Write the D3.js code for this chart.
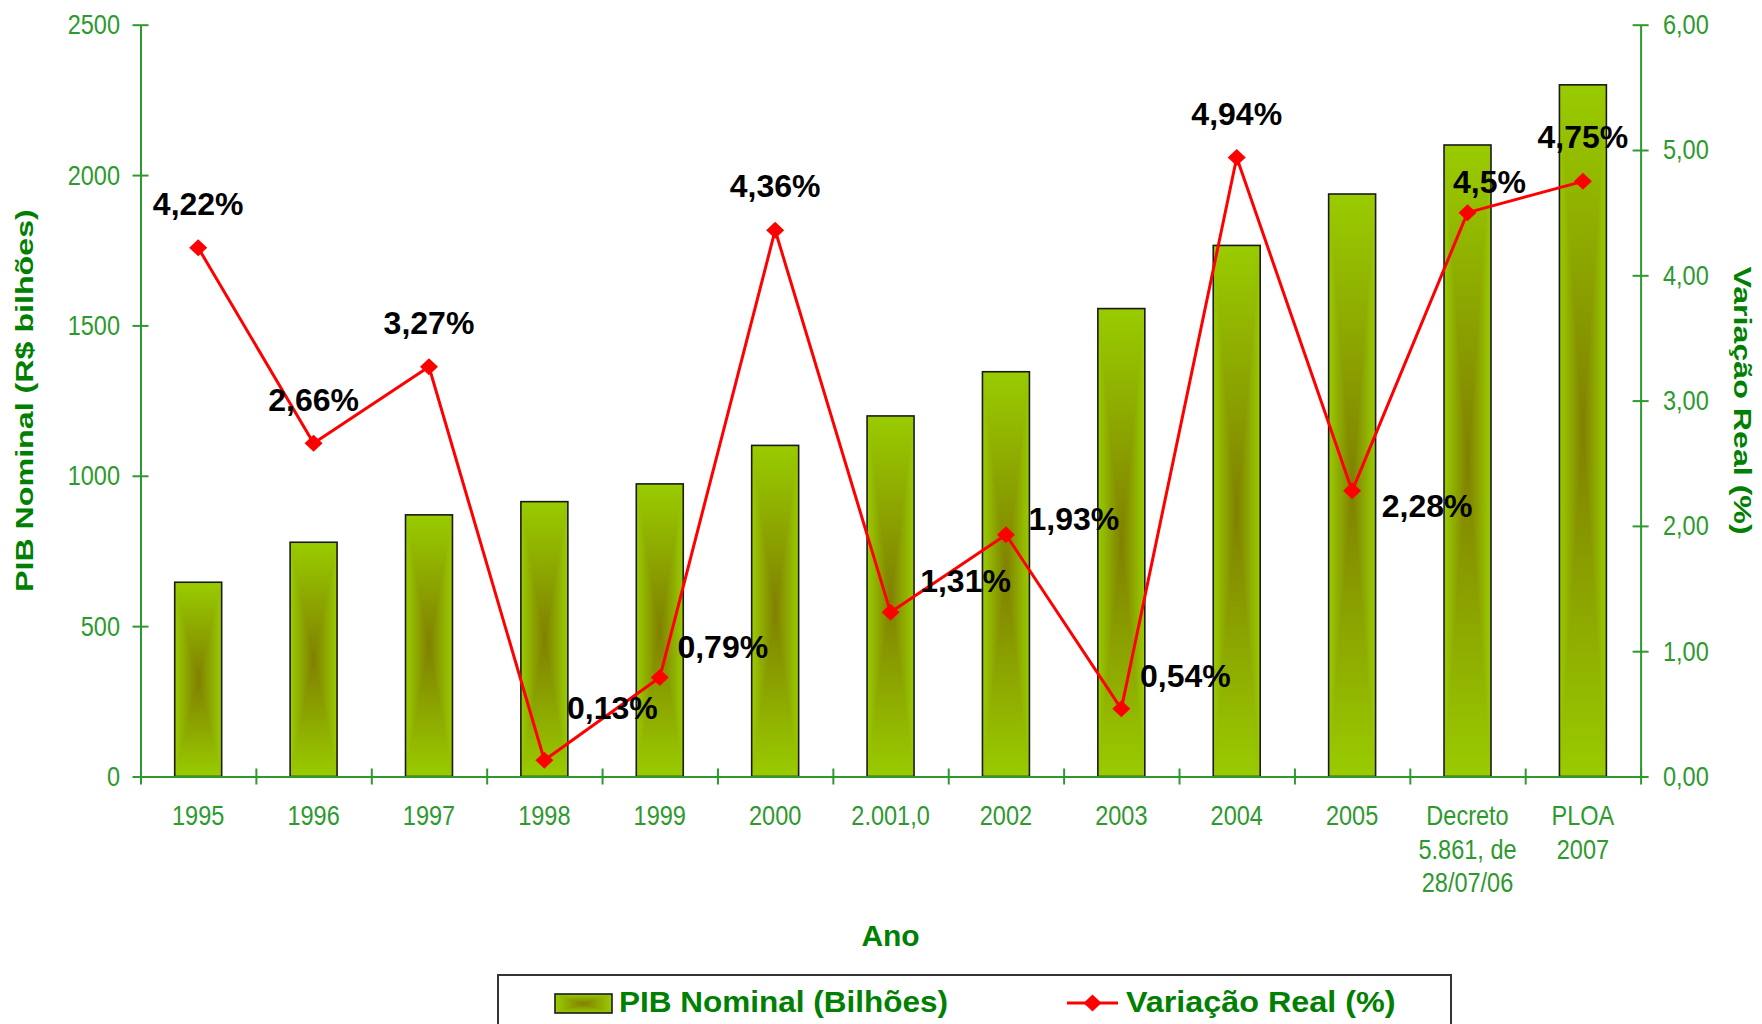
<!DOCTYPE html>
<html>
<head>
<meta charset="utf-8">
<script src="https://cdn.jsdelivr.net/npm/d3@7"></script>
<style>
  body { margin: 0; background: #fff; }
  svg { display: block; font-family: "Liberation Sans", Arial, sans-serif; }
</style>
</head>
<body>
<div id="chart"></div>
<script>
// PIB Nominal x Variação Real

// data
var anos = ["1995", "1996", "1997", "1998", "1999", "2000", "2.001,0", "2002", "2003", "2004", "2005",
            "Decreto|5.861, de|28/07/06", "PLOA|2007"];
var pibNominal = [646, 779, 870, 914, 973, 1101, 1199, 1346, 1556, 1766, 1937, 2100, 2300];
var variacaoReal = [4.22, 2.66, 3.27, 0.13, 0.79, 4.36, 1.31, 1.93, 0.54, 4.94, 2.28, 4.5, 4.75];
var rotulos = ["4,22%", "2,66%", "3,27%", "0,13%", "0,79%", "4,36%", "1,31%", "1,93%", "0,54%",
               "4,94%", "2,28%", "4,5%", "4,75%"];
var ticksPib = [0, 500, 1000, 1500, 2000, 2500];
var ticksVar = [0, 1, 2, 3, 4, 5, 6];

// where each data label sits relative to its point [dx, dy] (layout only)
var nudge = [[0, -33], [0, -32], [0, -33], [68, -41], [63, -20], [0, -33], [75, -20],
             [68, -5], [64, -22], [0, -33], [75, 26], [22, -20], [0, -33]];

var svgWidth = 1762, svgHeight = 1024;
var margin = {top: 24.7, right: 121.4, bottom: 247.5, left: 140.5};
var width = svgWidth - margin.left - margin.right;
var height = svgHeight - margin.top - margin.bottom;

var verde = "#2e992e", verdeEscuro = "#008000";
var claro = "#99cc00", escuro = "#808000";

var svg = d3.select("#chart").append("svg")
  .attr("width", svgWidth)
  .attr("height", svgHeight);

// gradients for the "from center" bar fill
var defs = svg.append("defs");
function gradiente(id, x2, y2, stops) {
  var g = defs.append("linearGradient").attr("id", id)
    .attr("x1", 0).attr("y1", 0).attr("x2", x2).attr("y2", y2);
  stops.forEach(function(s) {
    g.append("stop").attr("offset", s[0]).attr("stop-color", s[1]);
  });
}
gradiente("gH", 1, 0, [[0, claro], [0.5, escuro], [1, claro]]);
gradiente("gTop", 0, 1, [[0, claro], [1, escuro]]);
gradiente("gBot", 0, 1, [[0, escuro], [1, claro]]);

function caixaGradiente(g, x, y, w, h) {
  g.append("rect").attr("x", x).attr("y", y).attr("width", w).attr("height", h).attr("fill", "url(#gH)");
  g.append("path").attr("d", `M${x},${y}L${x + w},${y}L${x + w / 2},${y + h / 2}Z`).attr("fill", "url(#gTop)");
  g.append("path").attr("d", `M${x},${y + h}L${x + w},${y + h}L${x + w / 2},${y + h / 2}Z`).attr("fill", "url(#gBot)");
  g.append("rect").attr("x", x).attr("y", y).attr("width", w).attr("height", h)
    .attr("fill", "none").attr("stroke", "#1a1a1a").attr("stroke-width", 1.6);
}

// stretch / squeeze text horizontally
function stretch(sel, k) {
  sel.each(function() {
    var w = this.getComputedTextLength();
    d3.select(this).attr("textLength", w * k).attr("lengthAdjust", "spacingAndGlyphs");
  });
}

var chartGroup = svg.append("g")
  .attr("transform", `translate(${margin.left}, ${margin.top})`);

// scales
var x = d3.scaleBand().domain(anos).range([0, width]).paddingInner(0.593).paddingOuter(0.2965);
var xEdge = d3.scaleLinear().domain([0, anos.length]).range([0, width]);
var yLeft = d3.scaleLinear().domain([0, 2500]).range([height, 0]);
var yRight = d3.scaleLinear().domain([0, 6]).range([height, 0]);

// bars
chartGroup.selectAll(".barra")
  .data(pibNominal)
  .enter()
  .append("g")
  .attr("class", "barra")
  .each(function(d, i) {
    caixaGradiente(d3.select(this), x(anos[i]), yLeft(d), x.bandwidth(), yLeft(0) - yLeft(d));
  });

// axes
var fmtVar = function(d) { return d3.format(".2f")(d).replace(".", ","); };

var eixoEsq = chartGroup.append("g")
  .call(d3.axisLeft(yLeft).tickValues(ticksPib).tickSize(8).tickSizeOuter(0).tickPadding(12.5).tickFormat(d3.format("d")));
eixoEsq.selectAll(".tick line").attr("x1", 8);

var eixoDir = chartGroup.append("g")
  .attr("transform", `translate(${width}, 0)`)
  .call(d3.axisRight(yRight).tickValues(ticksVar).tickSize(8).tickSizeOuter(0).tickPadding(14.4).tickFormat(fmtVar));
eixoDir.selectAll(".tick line").attr("x1", -8);

var eixoX = chartGroup.append("g")
  .attr("transform", `translate(0, ${height})`)
  .call(d3.axisBottom(xEdge).tickValues(d3.range(anos.length + 1)).tickSize(8).tickSizeOuter(0).tickFormat(""));
eixoX.selectAll(".tick line").attr("y1", -8);

[eixoEsq, eixoDir, eixoX].forEach(function(ax) {
  ax.select(".domain").attr("stroke", verde).attr("stroke-width", 2);
  ax.selectAll(".tick line").attr("stroke", verde).attr("stroke-width", 2);
  ax.selectAll(".tick text")
    .attr("fill", verde)
    .style("font-size", "28px")
    .style("font-family", "'Liberation Sans', Arial, sans-serif");
  stretch(ax.selectAll(".tick text"), 0.84);
});

// category labels (multi-line)
anos.forEach(function(a) {
  a.split("|").forEach(function(linha, j) {
    chartGroup.append("text")
      .attr("x", x(a) + x.bandwidth() / 2)
      .attr("y", height + 48.5 + j * 33.7)
      .attr("text-anchor", "middle")
      .attr("fill", verde)
      .style("font-size", "28px")
      .text(linha)
      .call(stretch, 0.84);
  });
});

// line series
var cx = function(i) { return x(anos[i]) + x.bandwidth() / 2; };
var linha = d3.line()
  .x(function(d, i) { return cx(i); })
  .y(function(d) { return yRight(d); });

chartGroup.append("path")
  .datum(variacaoReal)
  .attr("d", linha)
  .attr("fill", "none")
  .attr("stroke", "#ff0000")
  .attr("stroke-width", 3)
  .attr("stroke-linejoin", "round");

function losango(px, py) {
  return `M${px},${py - 8.5}L${px + 9},${py}L${px},${py + 8.5}L${px - 9},${py}Z`;
}

chartGroup.selectAll(".marcador")
  .data(variacaoReal)
  .enter()
  .append("path")
  .attr("class", "marcador")
  .attr("d", function(d, i) { return losango(cx(i), yRight(d)); })
  .attr("fill", "#ff0000");

// data labels
chartGroup.selectAll(".rotulo")
  .data(variacaoReal)
  .enter()
  .append("text")
  .attr("class", "rotulo")
  .attr("x", function(d, i) { return cx(i) + nudge[i][0]; })
  .attr("y", function(d, i) { return yRight(d) + nudge[i][1]; })
  .attr("text-anchor", "middle")
  .attr("fill", "#000")
  .style("font-size", "32px")
  .style("font-weight", "bold")
  .text(function(d, i) { return rotulos[i]; });

// axis titles
svg.append("text")
  .attr("transform", `translate(${margin.left - 107.5}, ${margin.top + height / 2}) rotate(-90)`)
  .attr("text-anchor", "middle")
  .attr("fill", verdeEscuro)
  .style("font-size", "23px")
  .style("font-weight", "bold")
  .text("PIB Nominal (R$ bilhões)")
  .call(stretch, 1.4);

svg.append("text")
  .attr("transform", `translate(${margin.left + width + 93.4}, ${margin.top + height / 2}) rotate(90)`)
  .attr("text-anchor", "middle")
  .attr("fill", verdeEscuro)
  .style("font-size", "24px")
  .style("font-weight", "bold")
  .text("Variação Real (%)")
  .call(stretch, 1.34);

svg.append("text")
  .attr("x", margin.left + width / 2)
  .attr("y", 946)
  .attr("text-anchor", "middle")
  .attr("fill", verdeEscuro)
  .style("font-size", "30px")
  .style("font-weight", "bold")
  .text("Ano");

// legend
var legenda = svg.append("g");
legenda.append("rect")
  .attr("x", 498).attr("y", 975)
  .attr("width", 953).attr("height", 80)
  .attr("fill", "#fff")
  .attr("stroke", "#333")
  .attr("stroke-width", 2);

caixaGradiente(legenda, 555, 994, 57, 19);
legenda.append("text")
  .attr("x", 619).attr("y", 1012)
  .attr("fill", verdeEscuro)
  .style("font-size", "29px")
  .style("font-weight", "bold")
  .text("PIB Nominal (Bilhões)")
  .call(stretch, 1.086);

legenda.append("line")
  .attr("x1", 1067).attr("x2", 1118)
  .attr("y1", 1003).attr("y2", 1003)
  .attr("stroke", "#ff0000").attr("stroke-width", 3);
legenda.append("path").attr("d", losango(1092.5, 1003)).attr("fill", "#ff0000");
legenda.append("text")
  .attr("x", 1126).attr("y", 1012)
  .attr("fill", verdeEscuro)
  .style("font-size", "29px")
  .style("font-weight", "bold")
  .text("Variação Real (%)")
  .call(stretch, 1.115);
</script>
</body>
</html>
